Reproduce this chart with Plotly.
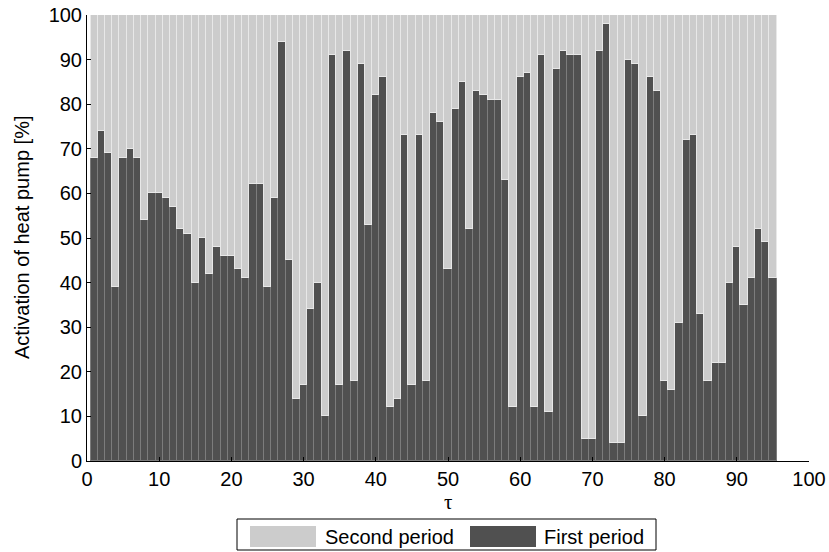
import plotly.graph_objects as go

tau = list(range(1, 96))
first_period = [68, 74, 69, 39, 68, 70, 68, 54, 60, 60,
                59, 57, 52, 51, 40, 50, 42, 48, 46, 46,
                43, 41, 62, 62, 39, 59, 94, 45, 14, 17,
                34, 40, 10, 91, 17, 92, 18, 89, 53, 82,
                86, 12, 14, 73, 17, 73, 18, 78, 76, 43,
                79, 85, 52, 83, 82, 81, 81, 63, 12, 86,
                87, 12, 91, 11, 88, 92, 91, 91, 5, 5,
                92, 98, 4, 4, 90, 89, 10, 86, 83, 18,
                16, 31, 72, 73, 33, 18, 22, 22, 40, 48,
                35, 41, 52, 49, 41]
second_period = [32, 26, 31, 61, 32, 30, 32, 46, 40, 40,
                 41, 43, 48, 49, 60, 50, 58, 52, 54, 54,
                 57, 59, 38, 38, 61, 41, 6, 55, 86, 83,
                 66, 60, 90, 9, 83, 8, 82, 11, 47, 18,
                 14, 88, 86, 27, 83, 27, 82, 22, 24, 57,
                 21, 15, 48, 17, 18, 19, 19, 37, 88, 14,
                 13, 88, 9, 89, 12, 8, 9, 9, 95, 95,
                 8, 2, 96, 96, 10, 11, 90, 14, 17, 82,
                 84, 69, 28, 27, 67, 82, 78, 78, 60, 52,
                 65, 59, 48, 51, 59]
x_ticks = [0, 10, 20, 30, 40, 50, 60, 70, 80, 90, 100]
y_ticks = [0, 10, 20, 30, 40, 50, 60, 70, 80, 90, 100]

DARK = "#505050"
LIGHT = "#cccccc"
FONT = "Liberation Sans, Arial, sans-serif"

fig = go.Figure()
fig.add_trace(go.Bar(x=tau, y=first_period, name="First period",
                     marker=dict(color=DARK, line=dict(color="#7c7c7c", width=1)),
                     width=1, showlegend=False))
fig.add_trace(go.Bar(x=tau, y=second_period, name="Second period",
                     marker=dict(color=LIGHT, line=dict(color="#e8e8e8", width=1)),
                     width=1, showlegend=False))

W, H = 829, 552
L, R, T, B = 87, 20, 15, 91
pw = W - L - R
ph = H - T - B


def px(xp):
    return (xp - L) / pw


def py(yp):
    return (H - B - yp) / ph


shapes = []
annotations = []
# legend box
shapes.append(dict(type="rect", xref="paper", yref="paper",
                   x0=px(237), x1=px(656), y0=py(550), y1=py(519),
                   line=dict(color="black", width=1), fillcolor="white"))
shapes.append(dict(type="rect", xref="paper", yref="paper",
                   x0=px(250), x1=px(316), y0=py(547), y1=py(526),
                   line=dict(width=0), fillcolor=LIGHT))
shapes.append(dict(type="rect", xref="paper", yref="paper",
                   x0=px(470), x1=px(536), y0=py(547), y1=py(526),
                   line=dict(width=0), fillcolor=DARK))
annotations.append(dict(text="Second period", xref="paper", yref="paper",
                        x=px(323), y=py(536.5), xanchor="left", yanchor="middle",
                        showarrow=False, font=dict(family=FONT, size=20, color="black")))
annotations.append(dict(text="First period", xref="paper", yref="paper",
                        x=px(542), y=py(536.5), xanchor="left", yanchor="middle",
                        showarrow=False, font=dict(family=FONT, size=20, color="black")))
annotations.append(dict(text="τ", xref="paper", yref="paper",
                        x=0.5, y=py(502), xanchor="center", yanchor="middle",
                        showarrow=False, font=dict(family="Liberation Serif, serif", size=21, color="black")))
annotations.append(dict(text="Activation of heat pump [%]", xref="paper", yref="paper",
                        x=px(22), y=0.5, xanchor="center", yanchor="middle", textangle=-90,
                        showarrow=False, font=dict(family=FONT, size=20, color="black")))

fig.update_layout(
    width=W, height=H,
    margin=dict(l=L, r=R, t=T, b=B, pad=0, autoexpand=False),
    paper_bgcolor="white", plot_bgcolor="white",
    barmode="stack", bargap=0,
    font=dict(family=FONT, size=20, color="black"),
    shapes=shapes, annotations=annotations,
    showlegend=False,
)
fig.update_xaxes(range=[0, 100], tickvals=x_ticks, ticktext=[str(v) for v in x_ticks],
                 ticks="inside", ticklen=4, tickcolor="black", showline=True,
                 linecolor="black", linewidth=1, showgrid=False, zeroline=False,
                 automargin=False,
                 tickfont=dict(family=FONT, size=20, color="black"), fixedrange=True)
fig.update_yaxes(range=[0, 100], tickvals=y_ticks, ticktext=[str(v) for v in y_ticks],
                 ticks="inside", ticklen=4, tickcolor="black", showline=True,
                 linecolor="black", linewidth=1, showgrid=False, zeroline=False,
                 automargin=False,
                 tickfont=dict(family=FONT, size=20, color="black"), fixedrange=True)

fig.write_html("out.html", config=dict(displayModeBar=False))
